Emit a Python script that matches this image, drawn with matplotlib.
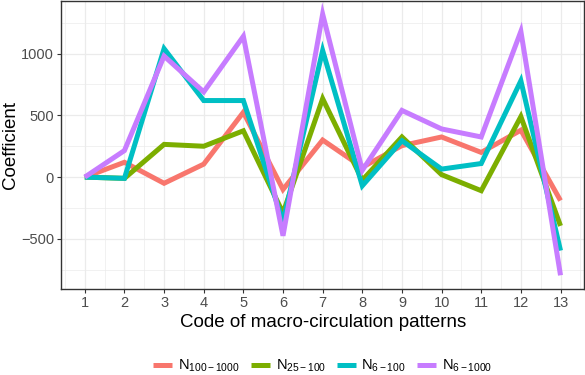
import matplotlib
matplotlib.use("Agg")
import matplotlib.pyplot as plt
from matplotlib.ticker import MultipleLocator

plt.rcParams['font.family'] = ['Liberation Sans', 'DejaVu Sans']
plt.rcParams['mathtext.fontset'] = 'custom'
plt.rcParams['mathtext.rm'] = 'Liberation Sans'
plt.rcParams['mathtext.it'] = 'Liberation Sans'
plt.rcParams['mathtext.default'] = 'rm'

codes = list(range(1, 14))
n100_1000 = [0, 120, -50, 105, 525, -100, 300, 80, 255, 325, 200, 380, -190]
n25_100 = [0, -10, 265, 250, 375, -290, 635, -25, 325, 20, -110, 490, -395]
n6_100 = [0, -10, 1040, 620, 620, -360, 1025, -70, 295, 65, 110, 780, -595]
n6_1000 = [0, 215, 980, 690, 1140, -475, 1320, 55, 540, 390, 325, 1180, -795]

series = [
    ("N$_{100\u22121000}$", n100_1000, "#F8766D"),
    ("N$_{25\u2212100}$", n25_100, "#7CAE00"),
    ("N$_{6\u2212100}$", n6_100, "#00BFC4"),
    ("N$_{6\u22121000}$", n6_1000, "#C77CFF"),
]

fig = plt.figure(figsize=(5.85, 3.75), dpi=100)
ax_left, ax_right = 61/585, 584.3/585
ax = fig.add_axes([ax_left, 1 - 289/375, ax_right - ax_left, (289 - 1)/375])

for label, vals, col in series:
    ax.plot(codes, vals, color=col, lw=3.6, label=label, solid_joinstyle='miter', solid_capstyle='butt')

ax.set_xlim(0.4, 13.6)
ax.set_ylim(-906, 1426)
ax.set_xticks(codes)
ax.xaxis.set_minor_locator(MultipleLocator(0.5))
ax.yaxis.set_major_locator(MultipleLocator(500))
ax.yaxis.set_minor_locator(MultipleLocator(250))
ax.grid(which='major', color='#EBEBEB', lw=0.9)
ax.grid(which='minor', color='#EBEBEB', lw=0.5)
ax.set_axisbelow(True)
ax.tick_params(which='minor', length=0)
ax.tick_params(which='major', length=3, color='#333333', width=0.8, labelsize=10.5, labelcolor='#4D4D4D', pad=2)
for s in ax.spines.values():
    s.set_color('#333333')
    s.set_linewidth(1.0)

ax.set_xlabel("Code of macro-circulation patterns", fontsize=13.5, labelpad=3)
ax.set_ylabel("Coefficient", fontsize=13.5, va='baseline')
ax.yaxis.set_label_coords((15.5 - 61) / 523.3, 0.5)

leg = fig.legend(loc='center', bbox_to_anchor=((ax_left + ax_right) / 2, (375 - 366) / 375), ncol=4,
                 frameon=False, fontsize=10.5, handlelength=1.3, handletextpad=0.4,
                 columnspacing=0.75, borderaxespad=0, borderpad=0)

fig.savefig("out.png", dpi=100)
